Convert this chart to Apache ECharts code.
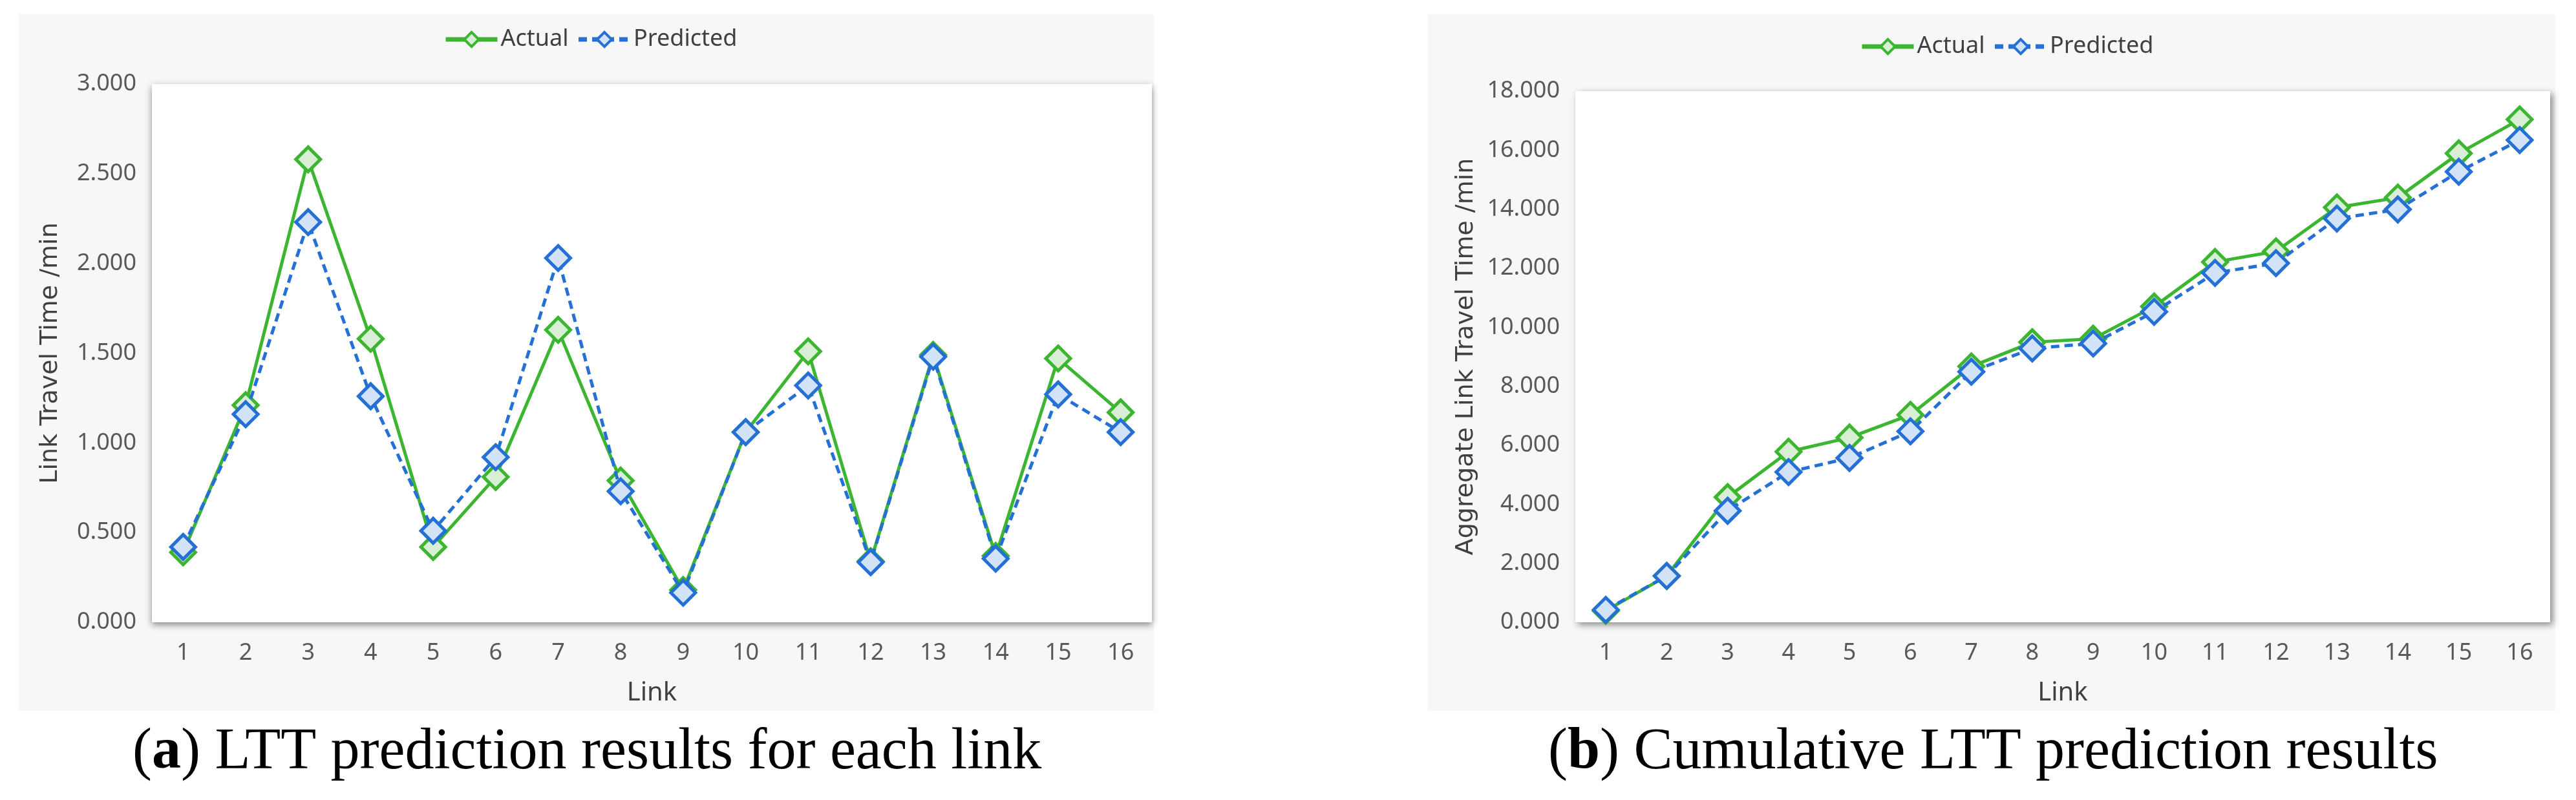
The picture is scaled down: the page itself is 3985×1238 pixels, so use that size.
<!DOCTYPE html>
<html>
<head>
<meta charset="utf-8">
<script src="https://cdn.jsdelivr.net/npm/echarts@6/dist/echarts.min.js"></script>
<style>
  html, body { margin: 0; padding: 0; background: #fff; }
  #main { width: 3985px; height: 1238px; }
</style>
</head>
<body>
<div id="main"></div>
<script>
// 数据
var links = ['1', '2', '3', '4', '5', '6', '7', '8', '9', '10', '11', '12', '13', '14', '15', '16'];
var actualLink = [0.39, 1.21, 2.58, 1.58, 0.42, 0.81, 1.63, 0.79, 0.18, 1.06, 1.51, 0.34, 1.49, 0.37, 1.47, 1.17];
var predictedLink = [0.42, 1.16, 2.23, 1.26, 0.51, 0.92, 2.03, 0.73, 0.165, 1.06, 1.32, 0.335, 1.48, 0.355, 1.27, 1.06];
var actualCum = [0.39, 1.57, 4.24, 5.78, 6.26, 7.03, 8.67, 9.49, 9.61, 10.70, 12.21, 12.57, 14.06, 14.39, 15.89, 17.04];
var predictedCum = [0.42, 1.57, 3.78, 5.09, 5.57, 6.47, 8.49, 9.28, 9.45, 10.52, 11.84, 12.17, 13.68, 13.99, 15.27, 16.34];
var yTicksLink = [0, 3, 0.5];   // min, max, interval
var yTicksCum = [0, 18, 2];

var GREEN = '#3cb531';
var GREEN_FILL = '#d9efd5';
var BLUE = '#2470d4';
var BLUE_FILL = '#d2e2f7';
var LABEL_FONT = '"Noto Sans", "Open Sans", sans-serif';

var myChart = echarts.init(document.getElementById('main'));

function lineSeries(name, data, idx, dashed) {
    return {
        name: name,
        type: 'line',
        xAxisIndex: idx,
        yAxisIndex: idx,
        data: data,
        symbol: 'diamond',
        symbolSize: 38,
        z: dashed ? 4 : 3,
        lineStyle: { color: dashed ? BLUE : GREEN, width: 5, type: dashed ? [13, 8] : 'solid' },
        itemStyle: {
            color: dashed ? BLUE_FILL : GREEN_FILL,
            borderColor: dashed ? BLUE : GREEN,
            borderWidth: 5
        },
        emphasis: { disabled: true },
        animation: false
    };
}

function xAxisOf(idx) {
    return {
        type: 'category',
        gridIndex: idx,
        data: links,
        axisLine: { show: false },
        axisTick: { show: false },
        axisLabel: { color: '#595959', fontSize: 36, fontFamily: LABEL_FONT, margin: 30 },
        name: 'Link',
        nameLocation: 'middle',
        nameGap: 90,
        nameTextStyle: { color: '#404040', fontSize: 40, fontFamily: LABEL_FONT }
    };
}

function yAxisOf(idx, ticks, name, gap) {
    return {
        type: 'value',
        gridIndex: idx,
        min: ticks[0],
        max: ticks[1],
        interval: ticks[2],
        axisLine: { show: false },
        axisTick: { show: false },
        splitLine: { show: false },
        axisLabel: {
            color: '#595959', fontSize: 36, fontFamily: LABEL_FONT, margin: 24,
            formatter: function (v) { return v.toFixed(3); }
        },
        name: name,
        nameLocation: 'middle',
        nameGap: gap,
        nameTextStyle: { color: '#404040', fontSize: 38, fontFamily: '"DejaVu Sans", Verdana, sans-serif' }
    };
}

function gridOf(left, right, top, shadowX) {
    return {
        show: true,
        left: left, right: right, top: top, bottom: 275,
        backgroundColor: '#ffffff',
        borderWidth: 0,
        shadowColor: 'rgba(0, 0, 0, 0.45)',
        shadowBlur: 10,
        shadowOffsetX: shadowX,
        shadowOffsetY: 4
    };
}

function legendOf(left, top) {
    return {
        data: ['Actual', 'Predicted'],
        left: left,
        top: top,
        itemWidth: 80,
        itemHeight: 28,
        itemGap: 12,
        lineStyle: { width: 7 },
        itemStyle: { borderWidth: 4 },
        textStyle: { color: '#404040', fontSize: 36, fontFamily: LABEL_FONT },
        selectedMode: false
    };
}

var captionRich = {
    b: { fontFamily: '"Liberation Serif", "Times New Roman", serif', fontSize: 90, fill: '#000' },
    bb: { fontFamily: '"Liberation Serif", "Times New Roman", serif', fontSize: 90, fontWeight: 'bold', fill: '#000' }
};

var option = {
    backgroundColor: '#ffffff',
    animation: false,
    graphic: [
        // 灰色背景面板
        { type: 'rect', z: -10, shape: { x: 29, y: 22, width: 1756, height: 1078 }, style: { fill: '#f7f7f7' } },
        { type: 'rect', z: -10, shape: { x: 2209, y: 22, width: 1744, height: 1078 }, style: { fill: '#f7f7f7' } },
        // 图注
        { type: 'text', left: 205, top: 1120, style: { text: '{b|(}{bb|a}{b|) LTT prediction results for each link}', rich: captionRich } },
        { type: 'text', left: 2395, top: 1120, style: { text: '{b|(}{bb|b}{b|) Cumulative LTT prediction results}', rich: captionRich } }
    ],
    legend: [legendOf(681, 38), legendOf(2872, 49)],
    grid: [gridOf(235, 3985 - 1782, 130, 0), gridOf(2437, 3985 - 3945, 141, 4)],
    xAxis: [xAxisOf(0), xAxisOf(1)],
    yAxis: [
        yAxisOf(0, yTicksLink, 'Link Travel Time /min', 138),
        yAxisOf(1, yTicksCum, 'Aggregate Link Travel Time /min', 150)
    ],
    series: [
        lineSeries('Actual', actualLink, 0, false),
        lineSeries('Predicted', predictedLink, 0, true),
        lineSeries('Actual', actualCum, 1, false),
        lineSeries('Predicted', predictedCum, 1, true)
    ]
};

myChart.setOption(option, true);
</script>
</body>
</html>
